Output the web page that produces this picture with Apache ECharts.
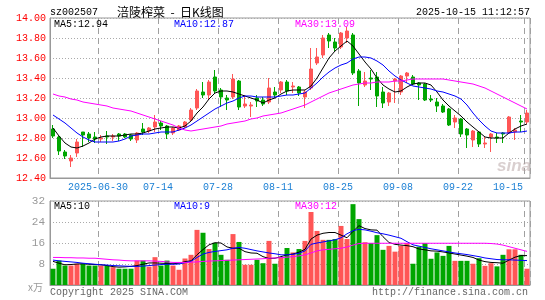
<!DOCTYPE html>
<html>
<head>
<meta charset="utf-8">
<script src="https://cdn.jsdelivr.net/npm/echarts@6/dist/echarts.min.js"></script>
<style>
  html, body { margin: 0; padding: 0; background: #fff; }
  #chart { width: 545px; height: 300px; }
</style>
</head>
<body>
<div id="chart"></div>
<script>
// Trading days shown (06-18 .. 10-15)
const dates = [
  '2025-06-18','2025-06-19','2025-06-20','2025-06-23','2025-06-24','2025-06-25','2025-06-26','2025-06-27','2025-06-30','2025-07-01',
  '2025-07-02','2025-07-03','2025-07-04','2025-07-07','2025-07-08','2025-07-09','2025-07-10','2025-07-11','2025-07-14','2025-07-15',
  '2025-07-16','2025-07-17','2025-07-18','2025-07-21','2025-07-22','2025-07-23','2025-07-24','2025-07-25','2025-07-28','2025-07-29',
  '2025-07-30','2025-07-31','2025-08-01','2025-08-04','2025-08-05','2025-08-06','2025-08-07','2025-08-08','2025-08-11','2025-08-12',
  '2025-08-13','2025-08-14','2025-08-15','2025-08-18','2025-08-19','2025-08-20','2025-08-21','2025-08-22','2025-08-25','2025-08-26',
  '2025-08-27','2025-08-28','2025-08-29','2025-09-01','2025-09-02','2025-09-03','2025-09-04','2025-09-05','2025-09-08','2025-09-09',
  '2025-09-10','2025-09-11','2025-09-12','2025-09-15','2025-09-16','2025-09-17','2025-09-18','2025-09-19','2025-09-22','2025-09-23',
  '2025-09-24','2025-09-25','2025-09-26','2025-09-29','2025-09-30','2025-10-09','2025-10-10','2025-10-13','2025-10-14','2025-10-15'
];

// Indices of the dates that get a label and a dashed line
const labelIdx = [8, 18, 28, 38, 48, 58, 68, 79];

const open = [
  12.89,12.81,12.66,12.57,12.65,12.86,12.84,12.81,12.79,12.82,
  12.81,12.84,12.84,12.83,12.78,12.89,12.87,12.91,12.95,12.92,
  12.85,12.88,12.91,12.98,13.10,13.26,13.23,13.41,13.28,13.20,
  13.21,13.37,13.12,13.12,13.20,13.18,13.16,13.26,13.28,13.36,
  13.31,13.31,13.21,13.30,13.55,13.63,13.83,13.76,13.71,13.80,
  13.83,13.47,13.33,13.40,13.41,13.26,13.16,13.37,13.26,13.42,
  13.41,13.35,13.34,13.19,13.16,13.12,13.09,12.96,12.99,12.89,
  12.78,12.86,12.74,12.81,12.81,12.85,12.85,12.86,12.97,12.96
];
const close = [
  12.82,12.67,12.62,12.60,12.76,12.83,12.80,12.79,12.80,12.81,
  12.82,12.82,12.81,12.79,12.85,12.86,12.90,12.96,12.92,12.84,
  12.90,12.92,12.96,13.08,13.27,13.23,13.36,13.27,13.21,13.18,
  13.39,13.11,13.14,13.13,13.17,13.14,13.30,13.23,13.36,13.27,
  13.32,13.25,13.26,13.49,13.61,13.80,13.77,13.70,13.85,13.87,
  13.45,13.35,13.37,13.39,13.22,13.15,13.25,13.39,13.42,13.45,
  13.34,13.33,13.18,13.18,13.12,13.06,12.93,13.00,12.84,12.83,
  12.87,12.74,12.75,12.84,12.80,12.84,13.01,12.88,12.96,13.05
];
const low = [
  12.80,12.63,12.59,12.51,12.61,12.71,12.76,12.75,12.76,12.74,
  12.77,12.77,12.80,12.77,12.75,12.83,12.85,12.86,12.88,12.79,
  12.83,12.87,12.90,12.97,13.08,13.20,13.18,13.25,13.11,13.08,
  13.19,13.08,13.10,13.01,13.11,13.12,13.14,13.20,13.25,13.23,
  13.25,13.22,13.10,13.28,13.53,13.60,13.70,13.67,13.69,13.75,
  13.43,13.12,13.31,13.28,13.11,13.10,13.12,13.15,13.23,13.35,
  13.33,13.18,13.17,13.16,13.06,13.05,12.92,12.90,12.81,12.70,
  12.71,12.71,12.70,12.66,12.75,12.75,12.84,12.78,12.86,12.94
];
const high = [
  12.93,12.82,12.68,12.63,12.79,12.86,12.86,12.86,12.83,12.87,
  12.84,12.85,12.85,12.84,12.86,12.95,12.91,13.03,12.97,12.93,
  12.91,12.93,12.97,13.10,13.29,13.36,13.38,13.48,13.30,13.23,
  13.44,13.38,13.23,13.16,13.23,13.21,13.40,13.31,13.37,13.38,
  13.36,13.32,13.28,13.70,13.70,13.83,13.85,13.80,13.86,13.91,
  13.85,13.49,13.46,13.48,13.46,13.31,13.26,13.40,13.43,13.46,
  13.43,13.36,13.35,13.23,13.20,13.14,13.10,13.03,13.00,12.90,
  12.88,12.87,12.81,12.85,12.85,12.86,13.02,12.90,13.03,13.08
];

const ma5 = [
  12.90,12.82,12.75,12.71,12.70,12.72,12.75,12.79,12.81,12.82,
  12.82,12.82,12.83,12.84,12.84,12.85,12.87,12.89,12.90,12.91,
  12.91,12.90,12.92,12.97,13.05,13.11,13.19,13.25,13.27,13.27,
  13.26,13.24,13.22,13.20,13.18,13.15,13.18,13.20,13.24,13.27,
  13.28,13.28,13.28,13.32,13.40,13.50,13.60,13.67,13.72,13.77,
  13.72,13.64,13.56,13.49,13.40,13.33,13.29,13.26,13.27,13.31,
  13.34,13.35,13.35,13.33,13.26,13.18,13.12,13.07,13.02,12.96,
  12.91,12.86,12.81,12.80,12.80,12.80,12.85,12.89,12.92,12.94
];
const ma10 = [
  13.03,12.99,12.95,12.90,12.85,12.81,12.78,12.76,12.76,12.76,
  12.76,12.77,12.79,12.82,12.83,12.84,12.84,12.85,12.86,12.86,
  12.86,12.88,12.90,12.93,12.97,13.01,13.05,13.09,13.12,13.15,
  13.17,13.20,13.22,13.22,13.21,13.21,13.21,13.21,13.22,13.23,
  13.23,13.24,13.25,13.30,13.35,13.41,13.46,13.50,13.53,13.55,
  13.59,13.61,13.61,13.60,13.57,13.53,13.47,13.42,13.38,13.35,
  13.32,13.31,13.30,13.29,13.27,13.26,13.24,13.22,13.19,13.13,
  13.05,12.98,12.92,12.87,12.85,12.85,12.85,12.86,12.86,12.87
];
const ma30 = [
  13.24,13.22,13.21,13.19,13.18,13.16,13.15,13.14,13.13,13.12,
  13.10,13.09,13.08,13.07,13.05,13.03,13.01,12.99,12.97,12.95,
  12.93,12.90,12.88,12.87,12.88,12.89,12.90,12.91,12.92,12.94,
  12.95,12.96,12.97,12.99,13.00,13.02,13.03,13.04,13.05,13.07,
  13.09,13.11,13.13,13.16,13.19,13.22,13.25,13.27,13.29,13.31,
  13.33,13.34,13.35,13.35,13.36,13.36,13.36,13.37,13.37,13.38,
  13.39,13.39,13.39,13.39,13.39,13.39,13.38,13.37,13.36,13.35,
  13.34,13.32,13.30,13.27,13.24,13.21,13.18,13.15,13.12,13.09
];

// Volume, in 万手
const volume = [
  6.2,9.3,7.4,7.4,8.1,8.1,7.4,7.4,7.4,7.4,
  6.8,6.2,6.2,6.2,9.3,9.3,7.0,10.6,7.4,9.3,
  7.4,5.8,10.1,11.5,21.0,19.9,13.7,16.1,11.5,9.6,
  19.4,16.4,7.7,7.7,9.6,8.3,16.8,8.1,10.6,14.1,
  12.4,13.7,16.8,27.8,20.6,17.2,17.2,17.5,22.5,17.5,
  30.8,25.1,16.3,16.0,19.0,13.4,14.9,12.7,14.9,16.0,
  8.1,14.6,16.0,10.0,12.4,11.1,14.9,9.2,9.2,9.2,
  8.1,10.2,7.3,8.3,7.1,11.5,13.6,13.6,11.5,6.2
];
const vma5 = [
  9.0,8.3,7.7,7.8,8.0,8.1,7.9,7.8,7.7,7.4,
  7.0,6.8,6.9,7.1,7.4,7.9,8.4,8.4,8.3,8.2,
  8.1,8.3,8.9,9.2,11.5,13.5,15.3,16.1,16.0,14.5,
  14.0,14.0,12.7,12.2,12.1,10.8,10.1,10.2,10.8,11.5,
  11.8,12.5,13.6,17.5,19.0,19.7,20.0,20.0,19.0,18.0,
  20.4,22.6,21.5,21.0,20.9,18.4,16.2,15.5,15.2,15.0,
  14.6,13.7,13.4,13.0,12.9,12.6,12.2,11.8,11.4,11.0,
  10.5,9.5,8.9,8.6,8.5,8.3,9.5,10.6,11.2,11.2
];
const vma10 = [
  9.5,9.2,9.0,8.8,8.6,8.3,8.1,7.9,7.7,7.6,
  7.4,7.3,7.2,7.1,7.1,7.2,7.4,7.6,7.8,7.9,
  7.9,8.0,8.5,9.0,10.5,11.8,12.4,12.8,13.1,13.4,
  14.0,14.3,14.0,13.5,13.0,12.6,12.2,11.9,11.5,11.5,
  11.7,12.1,13.0,15.5,16.0,16.4,16.8,17.2,18.0,19.5,
  20.7,21.2,21.0,20.5,19.9,19.5,19.0,18.4,17.8,16.5,
  15.3,14.8,14.3,13.8,13.4,13.0,12.6,12.2,11.9,11.6,
  11.2,10.8,10.3,10.0,9.7,9.6,9.6,9.5,9.4,9.3
];
const vma30 = [
  10.5,10.5,10.4,10.4,10.3,10.3,10.2,10.2,10.0,9.8,
  9.6,9.5,9.3,9.2,9.2,9.2,9.2,9.1,9.0,8.8,
  8.6,8.6,8.6,8.7,8.8,9.0,9.1,9.2,9.3,9.4,
  9.5,9.6,9.7,9.8,9.9,10.0,10.2,10.3,10.4,10.6,
  10.8,11.1,11.5,12.2,13.0,13.4,13.6,13.8,14.0,14.5,
  15.2,15.8,15.9,15.9,15.9,15.9,15.9,15.9,15.9,15.9,
  15.9,15.9,15.9,15.9,15.9,15.9,15.9,15.9,15.9,15.9,
  15.9,15.9,15.9,15.8,15.6,15.2,14.6,14.0,13.4,12.8
];

// Legend texts as printed on the chart
const priceLegend = ['MA5:12.94', 'MA10:12.87', 'MA30:13.09'];
const volLegend = ['MA5:10', 'MA10:9', 'MA30:12'];

const UP = '#ff5656';
const DOWN = '#00a600';
const MONO = 'Liberation Mono, DejaVu Sans Mono, monospace';

const chart = echarts.init(document.getElementById('chart'));

const candleData = open.map((o, i) => [o, close[i], low[i], high[i]]);
const volData = volume.map((v, i) => ({
  value: v,
  itemStyle: { color: close[i] >= open[i] ? UP : DOWN }
}));

function dateLabel(value, index) {
  const s = index === 8 ? value : value.slice(5);
  return index === dates.length - 1 ? '{e|' + s + '}' : '{a|' + s + '}';
}

function xAxisFor(gridIndex, showLabel) {
  return {
    type: 'category',
    gridIndex: gridIndex,
    data: dates,
    boundaryGap: true,
    axisTick: { show: false },
    axisLine: { lineStyle: { color: '#999' } },
    splitLine: {
      show: true,
      interval: (i) => labelIdx.indexOf(i) >= 0,
      lineStyle: { color: '#a0a0a0', type: [6, 4], width: 1 }
    },
    axisLabel: {
      show: showLabel,
      interval: (i) => labelIdx.indexOf(i) >= 0,
      formatter: dateLabel,
      margin: 4,
      rich: {
        a: { color: '#1a7fd4', fontFamily: MONO, fontSize: 10, padding: [0, 6, 0, 0] },
        e: { color: '#1a7fd4', fontFamily: MONO, fontSize: 10, padding: [0, 38, 0, 0] }
      }
    }
  };
}

function lineSeries(name, data, color, xi, yi) {
  return {
    name: name, type: 'line', data: data,
    xAxisIndex: xi, yAxisIndex: yi,
    symbol: 'none', smooth: false,
    lineStyle: { color: color, width: 1 },
    z: 5
  };
}

function txt(text, x, y, color, font, align) {
  return {
    type: 'text', x: x, y: y, silent: true, z: 100,
    style: { text: text, fill: color, font: font, align: align || 'left', verticalAlign: 'middle' }
  };
}

const option = {
  animation: false,
  backgroundColor: '#fff',
  grid: [
    { left: 50, top: 18, width: 480, height: 160, show: true, borderColor: '#999', borderWidth: 1 },
    { left: 50, top: 201, width: 480, height: 84, show: true, borderColor: '#999', borderWidth: 1 }
  ],
  xAxis: [xAxisFor(0, true), xAxisFor(1, false)],
  yAxis: [
    {
      type: 'value', gridIndex: 0, min: 12.4, max: 14.0, interval: 0.2,
      axisLine: { show: true, lineStyle: { color: '#999' } },
      axisTick: { show: false },
      axisLabel: { color: '#ff0000', fontFamily: MONO, fontSize: 10, margin: 4, formatter: v => v.toFixed(2) },
      splitLine: { lineStyle: { color: '#aaa', type: [1, 2] } }
    },
    {
      type: 'value', gridIndex: 1, min: 0, max: 32, interval: 8,
      axisLine: { show: true, lineStyle: { color: '#999' } },
      axisTick: { show: false },
      axisLabel: { color: '#999', fontFamily: MONO, fontSize: 11, margin: 5, formatter: v => (v === 0 ? '' : String(v)) },
      splitLine: { lineStyle: { color: '#aaa', type: [1, 2] } }
    }
  ],
  series: [
    {
      name: 'K', type: 'candlestick', data: candleData,
      xAxisIndex: 0, yAxisIndex: 0,
      barWidth: 4,
      itemStyle: { color: UP, color0: DOWN, borderColor: UP, borderColor0: DOWN, borderWidth: 1 },
      z: 3
    },
    lineSeries('MA5', ma5, '#000', 0, 0),
    lineSeries('MA10', ma10, '#0000ff', 0, 0),
    lineSeries('MA30', ma30, '#ff00ff', 0, 0),
    {
      name: 'VOL', type: 'bar', data: volData,
      xAxisIndex: 1, yAxisIndex: 1,
      barWidth: 5, z: 3
    },
    lineSeries('VMA5', vma5, '#000', 1, 1),
    lineSeries('VMA10', vma10, '#0000ff', 1, 1),
    lineSeries('VMA30', vma30, '#ff00ff', 1, 1)
  ],
  graphic: [
    txt('sz002507', 50, 12, '#000', '10px ' + MONO),
    txt('涪陵榨菜  -  日K线图', 117, 12, '#000', '12px "Noto Sans CJK SC", sans-serif'),
    txt('2025-10-15 11:12:57', 530, 12, '#000', '10px ' + MONO, 'right'),
    txt(priceLegend[0], 54, 24, '#000', '10px ' + MONO),
    txt(priceLegend[1], 174, 24, '#0000ff', '10px ' + MONO),
    txt(priceLegend[2], 295, 24, '#ff00ff', '10px ' + MONO),
    txt(volLegend[0], 54, 206, '#000', '10px ' + MONO),
    txt(volLegend[1], 174, 206, '#0000ff', '10px ' + MONO),
    txt(volLegend[2], 295, 206, '#ff00ff', '10px ' + MONO),
    txt('x万', 28, 287, '#999', '10px "Noto Sans CJK SC", sans-serif'),
    txt('Copyright 2025 SINA.COM', 50, 292, '#666', '10px ' + MONO),
    txt('http://finance.sina.com.cn', 528, 292, '#666', '10px ' + MONO, 'right'),
    txt('sina', 497, 166, 'rgba(180,160,160,0.5)', 'italic bold 17px "Liberation Sans", sans-serif')
  ]
};

chart.setOption(option);
</script>
</body>
</html>
